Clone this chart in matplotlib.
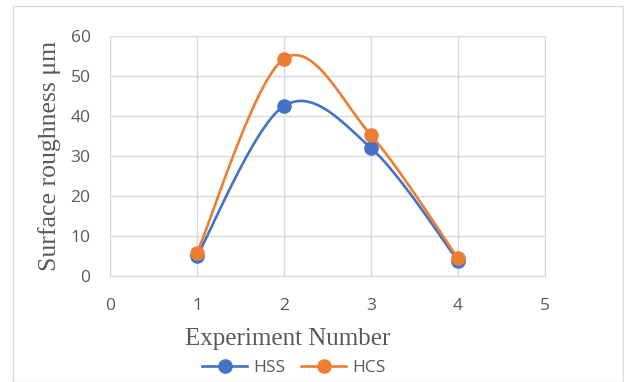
import numpy as np
import matplotlib.pyplot as plt
from matplotlib.patches import Rectangle

experiments = [1, 2, 3, 4]
hss = [5.0, 42.5, 32.0, 3.8]
hcs = [5.8, 54.3, 35.2, 4.4]

blue = '#4472C4'
orange = '#ED7D31'
grid = '#D9D9D9'
text_gray = '#595959'


def smooth(xs, ys, n=40):
    # excel-style smoothed line: bezier segments with catmull-rom control points
    xs = np.asarray(xs, float)
    ys = np.asarray(ys, float)
    px = np.concatenate([[xs[0]], xs, [xs[-1]]])
    py = np.concatenate([[ys[0]], ys, [ys[-1]]])
    outx, outy = [], []
    t = np.linspace(0, 1, n)
    for i in range(1, len(px) - 2):
        p0 = np.array([px[i], py[i]])
        p3 = np.array([px[i + 1], py[i + 1]])
        p1 = p0 + (np.array([px[i + 1], py[i + 1]]) - np.array([px[i - 1], py[i - 1]])) / 6
        p2 = p3 - (np.array([px[i + 2], py[i + 2]]) - np.array([px[i], py[i]])) / 6
        b = ((1 - t) ** 3)[:, None] * p0 + (3 * (1 - t) ** 2 * t)[:, None] * p1 \
            + (3 * (1 - t) * t ** 2)[:, None] * p2 + (t ** 3)[:, None] * p3
        outx.extend(b[:, 0])
        outy.extend(b[:, 1])
    return outx, outy


fig = plt.figure(figsize=(6.24, 3.82), dpi=100)
fig.patches.append(Rectangle((13 / 624, 0), 1 - 13 / 624 - 0.002, 1 - 6 / 382,
                             transform=fig.transFigure, fill=False,
                             edgecolor='#D9D9D9', linewidth=1))

ax = fig.add_axes([110 / 624, 1 - 276 / 382, 435 / 624, 240 / 382])

for ys, col, name in [(hss, blue, 'HSS'), (hcs, orange, 'HCS')]:
    sx, sy = smooth(experiments, ys)
    ax.plot(sx, sy, color=col, linewidth=1.9, zorder=3)
    ax.plot(experiments, ys, 'o', color=col, markersize=9.5, zorder=4)
    ax.plot([], [], '-o', color=col, linewidth=1.9, markersize=9.5, label=name)

ax.set_xlim(0, 5)
ax.set_ylim(0, 60)
ax.set_xticks(range(0, 6))
ax.set_yticks(range(0, 61, 10))
ax.grid(True, color=grid, linewidth=1)
ax.set_axisbelow(True)
for s in ax.spines.values():
    s.set_color(grid)
ax.tick_params(length=0, colors=text_gray, labelsize=12.5)
ax.tick_params(axis='x', pad=16)
ax.tick_params(axis='y', pad=14)
for lab in ax.get_xticklabels() + ax.get_yticklabels():
    lab.set_fontfamily('Open Sans')

ax.set_xlabel('Experiment Number', family='Liberation Serif', fontsize=18,
              color=text_gray)
ax.xaxis.set_label_coords(0.409, -0.215)
ax.set_ylabel('Surface roughness μm', family='Liberation Serif', fontsize=18.5,
              color=text_gray, labelpad=7)

leg = fig.legend(loc='center', bbox_to_anchor=(294 / 624, 1 - 368 / 382), ncol=2,
                 frameon=False, handlelength=2.6, columnspacing=0.9,
                 handletextpad=0.35, borderaxespad=0, borderpad=0,
                 prop={'family': 'Open Sans', 'size': 12.5})
for t in leg.get_texts():
    t.set_color(text_gray)

fig.savefig('out.png', dpi=100)
